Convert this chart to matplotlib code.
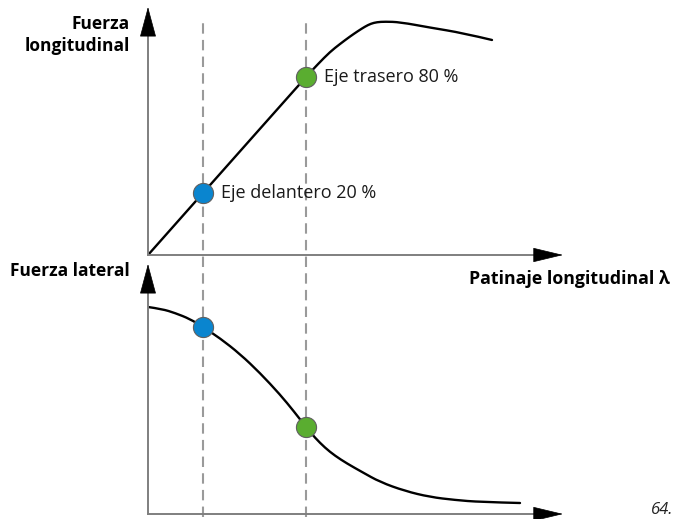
import numpy as np
import matplotlib.pyplot as plt
from matplotlib.path import Path
from matplotlib.patches import PathPatch

plt.rcParams['font.family'] = ['Open Sans', 'DejaVu Sans']

# patinaje (0-100 en el eje x) y fuerzas (0-100)
slip_top = [0, 13.25, 38.07, 40.96, 43.86, 46.27, 48.67, 50.60, 52.29, 53.73,
            55.18, 57.11, 60.72, 67.95, 75.90, 82.89]
fuerza_long = [0, 25.0, 71.8, 77.0, 81.9, 85.1, 88.1, 90.3, 92.1, 93.3,
               93.9, 94.1, 93.9, 91.7, 89.5, 86.7]

slip_bot = [0, 3.37, 6.51, 10.12, 13.25, 17.35, 22.17, 26.99, 31.81, 35.18, 38.07,
            40.24, 42.65, 45.06, 47.95, 51.57, 55.90, 61.93, 67.95, 73.98, 80.0, 89.64]
fuerza_lat = [82.8, 82.0, 80.4, 78.0, 74.8, 70.3, 64.0, 56.4, 47.8, 41.0, 34.8,
              30.5, 26.5, 23.3, 20.2, 16.8, 12.8, 9.2, 6.8, 5.6, 4.8, 4.4]

ejes = ['Eje delantero 20 %', 'Eje trasero 80 %']
ejes_slip = [13.25, 38.07]
ejes_long = [25.0, 71.8]
ejes_lat = [74.8, 34.8]
ejes_col = ['#0a85cf', '#5aad30']

W, H = 675, 519
fig = plt.figure(figsize=(W / 100, H / 100), dpi=100)


def px_axes(left, right, bottom, top):
    return fig.add_axes([left / W, 1 - bottom / H, (right - left) / W, (bottom - top) / H])


def smooth_curve(ax, xs, ys, **kw):
    # curva cuadratica suave que pasa por los puntos medios
    p = np.column_stack([xs, ys])
    verts = [p[0]]
    codes = [Path.MOVETO]
    for i in range(1, len(p) - 1):
        end = p[i + 1] if i == len(p) - 2 else (p[i] + p[i + 1]) / 2
        verts += [p[i], end]
        codes += [Path.CURVE3, Path.CURVE3]
    ax.add_patch(PathPatch(Path(verts, codes), fill=False, **kw))


ax1 = px_axes(148, 563, 255, 7)
ax2 = px_axes(148, 563, 514, 264)

axis_col = '#7f7f7f'
for ax, ybase in [(ax1, 88.7), (ax2, 88.8)]:
    ax.set_xlim(0, 100)
    ax.set_ylim(0, 100)
    ax.patch.set_visible(False)
    ax.set_xticks([])
    ax.set_yticks([])
    ax.spines['top'].set_visible(False)
    ax.spines['right'].set_visible(False)
    for s in ['left', 'bottom']:
        ax.spines[s].set_color(axis_col)
        ax.spines[s].set_linewidth(1.4)
    ax.spines['left'].set_bounds(0, ybase)
    ax.spines['bottom'].set_bounds(0, 93.3)
    # puntas de flecha
    ax.annotate('', xy=(0, 100), xytext=(0, ybase), xycoords='data',
                arrowprops=dict(arrowstyle='-|>,head_length=1.0,head_width=0.27',
                                mutation_scale=20, color='black', lw=0.5,
                                shrinkA=0, shrinkB=0), annotation_clip=False)
    ax.annotate('', xy=(100, 0), xytext=(93.3, 0), xycoords='data',
                arrowprops=dict(arrowstyle='-|>,head_length=1.0,head_width=0.24',
                                mutation_scale=20, color='black', lw=0.5,
                                shrinkA=0, shrinkB=0), annotation_clip=False)

# lineas discontinuas verticales
for xs in ejes_slip:
    ax1.axvline(xs, ymin=-1.055, ymax=0.94, color='#9a9a9a', lw=1.5,
                dashes=(5, 3), clip_on=False, zorder=1)

smooth_curve(ax1, slip_top, fuerza_long, edgecolor='black', lw=1.7, capstyle='round', zorder=2)
smooth_curve(ax2, slip_bot, fuerza_lat, edgecolor='black', lw=1.7, capstyle='round', zorder=2)

for x, yl, yt, c, lab in zip(ejes_slip, ejes_long, ejes_lat, ejes_col, ejes):
    ax1.plot(x, yl, 'o', ms=14.5, color=c, mec='#606060', mew=0.8, zorder=3, clip_on=False)
    ax2.plot(x, yt, 'o', ms=14.5, color=c, mec='#606060', mew=0.8, zorder=3, clip_on=False)
    ax1.annotate(lab, xy=(x, yl), xytext=(13, 0), textcoords='offset points',
                 fontsize=13, va='center', ha='left', color='#1a1a1a')

fig.text(130 / W, 1 - 35 / H, 'Fuerza\nlongitudinal', ha='right', va='center',
         ma='right', fontsize=12.5, fontweight='bold', linespacing=1.35)
fig.text(130 / W, 1 - 271 / H, 'Fuerza lateral', ha='right', va='center',
         fontsize=12.5, fontweight='bold')
fig.text(670 / W, 1 - 279 / H, 'Patinaje longitudinal λ', ha='right', va='center',
         fontsize=12.8, fontweight='bold')
fig.text(651 / W, 1 - 510 / H, '64.', ha='left', va='center', fontsize=12,
         style='italic', color='#222222')

fig.savefig('out.png', dpi=100)
